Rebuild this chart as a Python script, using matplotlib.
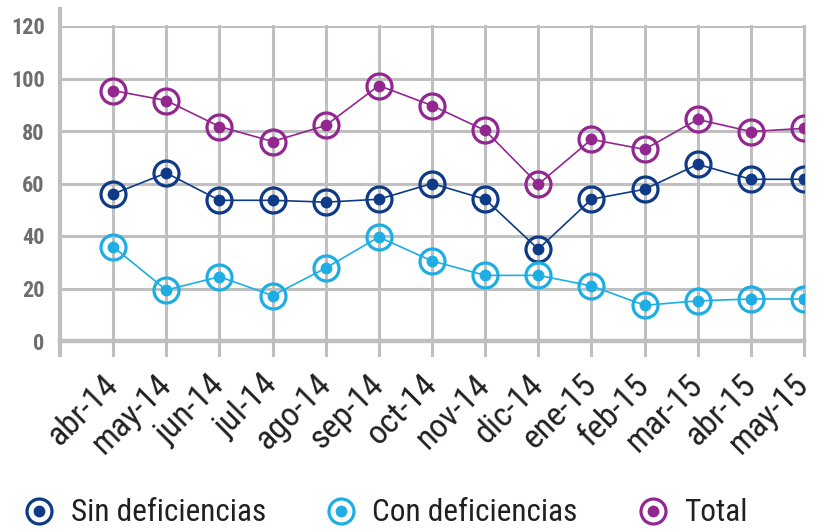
import matplotlib
matplotlib.use("Agg")
import matplotlib.pyplot as plt
from matplotlib import font_manager
from matplotlib.legend_handler import HandlerTuple
from matplotlib.lines import Line2D

months = ["abr-14", "may-14", "jun-14", "jul-14", "ago-14", "sep-14", "oct-14",
          "nov-14", "dic-14", "ene-15", "feb-15", "mar-15", "abr-15", "may-15"]
sin_def = [56, 64, 53.6, 53.6, 52.9, 54, 60, 54, 35, 54, 57.8, 67.3, 61.6, 61.6]
con_def = [35.9, 19.4, 24.5, 17.3, 27.8, 39.6, 30.5, 25, 25, 21, 13.6, 15.3, 16, 16]
total = [95.4, 91.6, 81.7, 76, 82.1, 97.3, 89.7, 80.2, 59.7, 76.8, 73, 84.4, 79.8, 81]
y_ticks = [0, 20, 40, 60, 80, 100, 120]

series = [
    ("Sin deficiencias", sin_def, "#0f3a85"),
    ("Con deficiencias", con_def, "#1eaee4"),
    ("Total", total, "#922790"),
]

GRID = "#bfbfbf"

# look for a narrow face, the original uses a condensed sans
names = sorted({f.name for f in font_manager.fontManager.ttflist})
narrow = "DejaVu Sans"
for cand in ["Liberation Sans Narrow", "Roboto Condensed", "Open Sans Condensed",
             "Noto Sans Condensed", "DejaVu Sans Condensed"]:
    if cand in names:
        narrow = cand
        break
narrow_props = dict(family=narrow)
if narrow == "DejaVu Sans":
    narrow_props["stretch"] = "condensed"

fig = plt.figure(figsize=(8.19, 5.31), dpi=100)
ax = fig.add_axes([60 / 819, 1 - 341 / 531, 744 / 819, 315 / 531])

x = list(range(len(months)))
ax.set_xlim(-1, len(months) - 1)
ax.set_ylim(0, 120)

# grid
for yv in y_ticks[1:]:
    ax.axhline(yv, color=GRID, lw=2.2, zorder=1)
for xv in x:
    ax.plot([xv, xv], [-5.3, 120], color=GRID, lw=2.2, zorder=1, clip_on=False)
ax.plot([-1, -1], [-5.3, 126.5], color=GRID, lw=3, zorder=1, clip_on=False)
ax.plot([-1, len(months) - 1], [0, 0], color=GRID, lw=3.2, zorder=1, clip_on=False)

handles = []
for name, vals, col in series:
    ax.plot(x, vals, color=col, lw=1.2, zorder=3)
    ax.plot(x, vals, ls="none", marker="o", ms=18, mfc="none", mec=col, mew=2.3, zorder=4)
    ax.plot(x, vals, ls="none", marker="o", ms=8.5, mfc=col, mec=col, mew=0, zorder=5)
    ring = Line2D([], [], ls="none", marker="o", ms=18, mfc="none", mec=col, mew=2.3)
    dot = Line2D([], [], ls="none", marker="o", ms=8.5, mfc=col, mew=0)
    handles.append((ring, dot))

for s in ax.spines.values():
    s.set_visible(False)

ax.set_yticks(y_ticks)
ax.set_yticklabels([str(v) for v in y_ticks], fontsize=16, fontweight="heavy",
                   color="#6d6e71", **narrow_props)
ax.tick_params(axis="y", length=0, pad=11)

ax.set_xticks(x)
ax.set_xticklabels(months, rotation=45, ha="right", va="center", rotation_mode="anchor",
                   fontsize=24.5, color="#231f20", **narrow_props)
ax.tick_params(axis="x", length=0, pad=28)

leg = fig.legend(handles, [s[0] for s in series], loc="center left",
                 bbox_to_anchor=(0.029, 0.034), ncol=3, frameon=False,
                 borderpad=0, borderaxespad=0,
                 handler_map={tuple: HandlerTuple(ndivide=1)},
                 prop=dict(size=22.5, **narrow_props), labelcolor="#231f20",
                 handlelength=1.0, handletextpad=0.5, columnspacing=1.9)

fig.savefig("out.png", dpi=100)
